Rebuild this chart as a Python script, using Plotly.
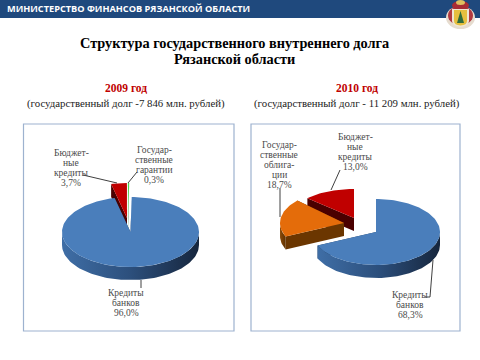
import math
import plotly.graph_objects as go

# ---- data ----
labels_2009 = ["Кредиты банков", "Бюджетные кредиты", "Государственные гарантии"]
values_2009 = [96.0, 3.7, 0.3]
labels_2010 = ["Кредиты банков", "Государственные облигации", "Бюджетные кредиты"]
values_2010 = [68.3, 18.7, 13.0]

header_text = "МИНИСТЕРСТВО ФИНАНСОВ РЯЗАНСКОЙ ОБЛАСТИ"
title_lines = ["Структура государственного внутреннего долга", "Рязанской области"]
year_2009 = "2009 год"
year_2010 = "2010 год"
sub_2009 = "(государственный долг -7 846 млн. рублей)"
sub_2010 = "(государственный долг - 11 209 млн. рублей)"

label_lines_2009 = [
    (["Бюджет-", "ные", "кредиты", "3,7%"], 71, [153, 163, 173, 183]),
    (["Государ-", "ственные", "гарантии", "0,3%"], 154, [150, 160, 170, 180]),
    (["Кредиты", "банков", "96,0%"], 126, [293, 303, 313]),
]
label_lines_2010 = [
    (["Бюджет-", "ные", "кредиты", "13,0%"], 355, [137, 147, 157, 167]),
    (["Государ-", "ственные", "облига-", "ции", "18,7%"], 279, [145, 155, 165, 175, 185]),
    (["Кредиты", "банков", "68,3%"], 410, [295, 305, 315]),
]

# ---- styles / geometry ----
BLUE = dict(top="#4a7ebb", wall=[[0, "#3f6ea6"], [0.5, "#2c4f7c"], [1, "#16263d"]], cut="#1f3a5c")
RED = dict(top="#c00000", wall=[[0, "#5c0000"], [1, "#3c0000"]], cut="#4a0000")
GREEN = dict(top="#4fd04f", wall=[[0, "#2c7a2c"], [1, "#1f5a1f"]], cut="#2c7a2c")
ORANGE = dict(top="#e46c0a", wall=[[0, "#8a4a08"], [1, "#5e3000"]], cut="#6b3600")
TEXT = "#4a4a4a"
SERIF = "Liberation Serif"

fig = go.Figure()


def pt(cx, cy, rx, ry, a):
    r = math.radians(a)
    return cx + rx * math.sin(r), cy - ry * math.cos(r)


def poly(xs, ys, color=None, grad=None, line=None):
    kw = dict(x=xs, y=ys, mode="lines", fill="toself", hoverinfo="skip", showlegend=False,
              line=dict(width=0.6 if line else 0, color=line or "rgba(0,0,0,0)"))
    if grad:
        kw["fillgradient"] = dict(type="horizontal", colorscale=grad)
    else:
        kw["fillcolor"] = color
    fig.add_trace(go.Scatter(**kw))


def wedge(a0, a1, c, rx, ry, d, st):
    """Tilted pie slice spanning clockwise angles a0..a1 about centre c."""
    cx, cy = c
    n = max(8, int((a1 - a0) / 2))
    angs = [a0 + (a1 - a0) * i / n for i in range(n + 1)]
    # radial cut walls
    for a in (a0, a1):
        x, y = pt(cx, cy, rx, ry, a)
        poly([cx, x, x, cx, cx], [cy, y, y + d, cy + d, cy], color=st["cut"])
    # outer wall (front half only)
    if a0 < 270 and a1 > 90:
        lo, hi = max(a0, 90), min(a1, 270)
        m = max(4, int((hi - lo) / 2))
        front = [lo + (hi - lo) * i / m for i in range(m + 1)]
        top = [pt(cx, cy, rx, ry, a) for a in front]
        xs = [p[0] for p in top] + [p[0] for p in reversed(top)]
        ys = [p[1] + d for p in top] + [p[1] for p in reversed(top)]
        poly(xs + xs[:1], ys + ys[:1], grad=st["wall"])
    # top face
    arc = [pt(cx, cy, rx, ry, a) for a in angs]
    poly([cx] + [p[0] for p in arc] + [cx], [cy] + [p[1] for p in arc] + [cy], color=st["top"])


def slices(values, start):
    out, a = [], start
    for v in values:
        out.append((a, a + v * 3.6))
        a += v * 3.6
    return out


# panels
shapes = [
    dict(type="rect", x0=0, x1=480, y0=0, y1=18, fillcolor="#1f497d", line_width=0, layer="below"),
    dict(type="rect", x0=23.5, x1=234, y0=124, y1=331, line=dict(color="#9db2cf", width=1.2),
         fillcolor="white", layer="below"),
    dict(type="rect", x0=251, x1=460, y0=124, y1=331, line=dict(color="#9db2cf", width=1.2),
         fillcolor="white", layer="below"),
]

# 2009 pie
s09 = slices(values_2009, 1.0)
RX09, RY09, D09 = 68.5, 35, 13
wedge(*s09[1], (127, 218), RX09, RY09, D09, RED)
wedge(*s09[2], (128, 218), RX09, RY09, D09, GREEN)
wedge(*s09[0], (130.5, 232), RX09, RY09, D09, BLUE)

# 2010 pie
s10 = slices(values_2010, 0.0)
RX10, RY10, D10 = 64, 33, 13
wedge(*s10[2], (354, 218), RX10, 29, D10, RED)
wedge(*s10[1], (344, 223), RX10, RY10, D10, ORANGE)
wedge(*s10[0], (376, 232), RX10, RY10, D10, BLUE)

# leader lines
leaders = [
    ([83, 117], [175, 183]),
    ([137, 128], [172, 183]),
    ([141, 141], [280, 288]),
    ([340, 331], [170, 190]),
    ([280, 280], [188, 217]),
    ([433, 430, 425], [260, 297, 297]),
]
for xs, ys in leaders:
    fig.add_trace(go.Scatter(x=xs, y=ys, mode="lines", line=dict(color="#404040", width=1),
                             hoverinfo="skip", showlegend=False))


# crest
def ell(x0, y0, x1, y1, c):
    shapes.append(dict(type="circle", x0=x0, x1=x1, y0=y0, y1=y1, fillcolor=c, line_width=0))


def path(d, c):
    shapes.append(dict(type="path", path=d, fillcolor=c, line_width=0))


ell(446, 6, 475, 29, "#e6dccf")
ell(448, 6, 473, 25, "#b23a40")
ell(452, 1, 469, 10, "#a82c34")
ell(456, 0, 465, 5, "#e0c060")
path("M452,9 L469,9 L469,21 Q469,26 460.5,27 Q452,26 452,21 Z", "#efe6d2")
path("M454,10 L467,10 L467,21 Q467,25 460.5,25.5 Q454,25 454,21 Z", "#e6bf3e")
path("M460.5,11 L464,23 L457,23 Z", "#2f6b3c")

annots = []


def text(s, x, y, size, color=TEXT, bold=False, family=SERIF, anchor="center"):
    annots.append(dict(text=f"<b>{s}</b>" if bold else s, x=x, y=y, xref="x", yref="y",
                       showarrow=False, xanchor=anchor, yanchor="middle",
                       font=dict(family=family, size=size, color=color)))


text(header_text, 5, 8.5, 9.2, color="white", bold=True, family="Open Sans", anchor="left")
text(title_lines[0], 234, 43, 14.3, color="black", bold=True)
text(title_lines[1], 234, 59, 14.3, color="black", bold=True)
text(year_2009, 126, 88, 11.5, color="#c00000", bold=True)
text(year_2010, 357, 88, 11.5, color="#c00000", bold=True)
text(sub_2009, 126, 103, 10.8, color="#222222")
text(sub_2010, 357, 103, 10.8, color="#222222")
for group in (label_lines_2009, label_lines_2010):
    for lines, x, ys in group:
        for line, y in zip(lines, ys):
            text(line, x, y, 9.5)

fig.update_layout(
    width=480, height=360, margin=dict(l=0, r=0, t=0, b=0),
    paper_bgcolor="white", plot_bgcolor="white", showlegend=False,
    xaxis=dict(range=[0, 480], visible=False, fixedrange=True),
    yaxis=dict(range=[360, 0], visible=False, fixedrange=True),
    shapes=shapes, annotations=annots,
)
fig.write_html("out.html", config={"displayModeBar": False},
               post_script="document.body.style.margin='0';document.body.style.overflow='hidden';")
